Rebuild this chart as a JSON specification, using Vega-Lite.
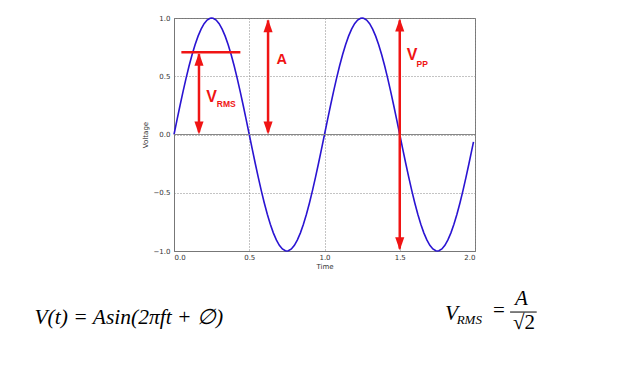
{
  "$schema": "https://vega.github.io/schema/vega-lite/v6.json",
  "autosize": "none",
  "width": 301,
  "height": 233,
  "padding": {"left": 174, "top": 18, "right": 155, "bottom": 125},
  "background": "white",
  "config": {
    "view": {"stroke": "#777", "strokeWidth": 1},
    "axis": {
      "labelFont": "DejaVu Sans", "labelFontSize": 7, "labelColor": "#333",
      "titleFont": "DejaVu Sans", "titleFontSize": 7, "titleFontWeight": "normal", "titleColor": "#333",
      "domainColor": "#777", "ticks": false,
      "grid": true, "gridColor": "#888", "gridDash": [1, 2], "gridOpacity": 1
    }
  },
  "datasets": {
    "wave": [
      {"x": 0, "y": 0}, {"x": 0.02, "y": 0.1253}, {"x": 0.04, "y": 0.2487}, {"x": 0.06, "y": 0.3681}, {"x": 0.08, "y": 0.4818},
      {"x": 0.1, "y": 0.5878}, {"x": 0.12, "y": 0.6845}, {"x": 0.14, "y": 0.7705}, {"x": 0.16, "y": 0.8443}, {"x": 0.18, "y": 0.9048},
      {"x": 0.2, "y": 0.9511}, {"x": 0.22, "y": 0.9823}, {"x": 0.24, "y": 0.998}, {"x": 0.25, "y": 1}, {"x": 0.26, "y": 0.998},
      {"x": 0.28, "y": 0.9823}, {"x": 0.3, "y": 0.9511}, {"x": 0.32, "y": 0.9048}, {"x": 0.34, "y": 0.8443}, {"x": 0.36, "y": 0.7705},
      {"x": 0.38, "y": 0.6845}, {"x": 0.4, "y": 0.5878}, {"x": 0.42, "y": 0.4818}, {"x": 0.44, "y": 0.3681}, {"x": 0.46, "y": 0.2487},
      {"x": 0.48, "y": 0.1253}, {"x": 0.5, "y": 0}, {"x": 0.52, "y": -0.1253}, {"x": 0.54, "y": -0.2487}, {"x": 0.56, "y": -0.3681},
      {"x": 0.58, "y": -0.4818}, {"x": 0.6, "y": -0.5878}, {"x": 0.62, "y": -0.6845}, {"x": 0.64, "y": -0.7705}, {"x": 0.66, "y": -0.8443},
      {"x": 0.68, "y": -0.9048}, {"x": 0.7, "y": -0.9511}, {"x": 0.72, "y": -0.9823}, {"x": 0.74, "y": -0.998}, {"x": 0.75, "y": -1},
      {"x": 0.76, "y": -0.998}, {"x": 0.78, "y": -0.9823}, {"x": 0.8, "y": -0.9511}, {"x": 0.82, "y": -0.9048}, {"x": 0.84, "y": -0.8443},
      {"x": 0.86, "y": -0.7705}, {"x": 0.88, "y": -0.6845}, {"x": 0.9, "y": -0.5878}, {"x": 0.92, "y": -0.4818}, {"x": 0.94, "y": -0.3681},
      {"x": 0.96, "y": -0.2487}, {"x": 0.98, "y": -0.1253}, {"x": 1, "y": 0}, {"x": 1.02, "y": 0.1253}, {"x": 1.04, "y": 0.2487},
      {"x": 1.06, "y": 0.3681}, {"x": 1.08, "y": 0.4818}, {"x": 1.1, "y": 0.5878}, {"x": 1.12, "y": 0.6845}, {"x": 1.14, "y": 0.7705},
      {"x": 1.16, "y": 0.8443}, {"x": 1.18, "y": 0.9048}, {"x": 1.2, "y": 0.9511}, {"x": 1.22, "y": 0.9823}, {"x": 1.24, "y": 0.998},
      {"x": 1.25, "y": 1}, {"x": 1.26, "y": 0.998}, {"x": 1.28, "y": 0.9823}, {"x": 1.3, "y": 0.9511}, {"x": 1.32, "y": 0.9048},
      {"x": 1.34, "y": 0.8443}, {"x": 1.36, "y": 0.7705}, {"x": 1.38, "y": 0.6845}, {"x": 1.4, "y": 0.5878}, {"x": 1.42, "y": 0.4818},
      {"x": 1.44, "y": 0.3681}, {"x": 1.46, "y": 0.2487}, {"x": 1.48, "y": 0.1253}, {"x": 1.5, "y": 0}, {"x": 1.52, "y": -0.1253},
      {"x": 1.54, "y": -0.2487}, {"x": 1.56, "y": -0.3681}, {"x": 1.58, "y": -0.4818}, {"x": 1.6, "y": -0.5878}, {"x": 1.62, "y": -0.6845},
      {"x": 1.64, "y": -0.7705}, {"x": 1.66, "y": -0.8443}, {"x": 1.68, "y": -0.9048}, {"x": 1.7, "y": -0.9511}, {"x": 1.72, "y": -0.9823},
      {"x": 1.74, "y": -0.998}, {"x": 1.75, "y": -1}, {"x": 1.76, "y": -0.998}, {"x": 1.78, "y": -0.9823}, {"x": 1.8, "y": -0.9511},
      {"x": 1.82, "y": -0.9048}, {"x": 1.84, "y": -0.8443}, {"x": 1.86, "y": -0.7705}, {"x": 1.88, "y": -0.6845}, {"x": 1.9, "y": -0.5878},
      {"x": 1.92, "y": -0.4818}, {"x": 1.94, "y": -0.3681}, {"x": 1.96, "y": -0.2487}, {"x": 1.98, "y": -0.1253}, {"x": 1.99, "y": -0.0628}
    ],
    "zeroline": [{"x": 0, "x2": 2, "y": 0}],
    "hlines": [{"x": 0.049, "x2": 0.441, "y": 0.707}],
    "vlines": [
      {"x": 0.166, "y": 0.02, "y2": 0.69},
      {"x": 0.625, "y": 0.02, "y2": 0.98},
      {"x": 1.5, "y": -0.98, "y2": 0.98}
    ],
    "headsUp": [
      {"x": 0.166, "y": 0.702},
      {"x": 0.625, "y": 0.99},
      {"x": 1.5, "y": 0.995}
    ],
    "headsDown": [
      {"x": 0.166, "y": 0.0},
      {"x": 0.625, "y": 0.0},
      {"x": 1.5, "y": -0.993}
    ],
    "bigV": [
      {"x": 0.215, "y": 0.282, "text": "V"},
      {"x": 1.546, "y": 0.641, "text": "V"}
    ],
    "bigA": [{"x": 0.681, "y": 0.604, "text": "A"}],
    "subs": [
      {"x": 0.284, "y": 0.239, "text": "RMS"},
      {"x": 1.612, "y": 0.583, "text": "PP"}
    ],
    "eqItalic": [
      {"x": -0.927, "y": -1.623, "text": "V(t) = Asin(2πft + ∅)"},
      {"x": 1.8, "y": -1.595, "text": "V"}
    ],
    "eqSub": [{"x": 1.878, "y": -1.623, "text": "RMS"}],
    "eqEq": [{"x": 2.12, "y": -1.57, "text": "="}],
    "eqNum": [{"x": 2.309, "y": -1.466, "text": "A"}],
    "eqDen": [{"x": 2.326, "y": -1.672, "text": "√2"}],
    "eqBar": [{"x": 2.233, "x2": 2.41, "y": -1.524}]
  },
  "encoding": {
    "x": {
      "field": "x", "type": "quantitative",
      "scale": {"domain": [0, 2], "nice": false, "zero": false},
      "axis": {"values": [0, 0.5, 1, 1.5, 2], "format": ".1f", "title": "Time", "labelPadding": 2, "titlePadding": 2}
    },
    "y": {
      "field": "y", "type": "quantitative",
      "scale": {"domain": [-1, 1], "nice": false, "zero": false},
      "axis": {"values": [-1, -0.5, 0, 0.5, 1], "format": ".1f", "title": "Voltage", "labelPadding": 4, "titlePadding": 5}
    }
  },
  "layer": [
    {
      "data": {"name": "wave"},
      "mark": {"type": "line", "color": "#2a14d2", "strokeWidth": 1.6}
    },
    {
      "data": {"name": "zeroline"},
      "mark": {"type": "rule", "color": "#888", "strokeWidth": 1},
      "encoding": {"x2": {"field": "x2"}}
    },
    {
      "data": {"name": "hlines"},
      "mark": {"type": "rule", "color": "#f01414", "strokeWidth": 2.5},
      "encoding": {"x2": {"field": "x2"}}
    },
    {
      "data": {"name": "vlines"},
      "mark": {"type": "rule", "color": "#f01414", "strokeWidth": 2.5},
      "encoding": {"y2": {"field": "y2"}}
    },
    {
      "data": {"name": "headsUp"},
      "mark": {"type": "point", "shape": "M0,0L0.7,2L-0.7,2Z", "filled": true, "color": "#f01414", "opacity": 1, "size": 169}
    },
    {
      "data": {"name": "headsDown"},
      "mark": {"type": "point", "shape": "M0,0L0.7,-2L-0.7,-2Z", "filled": true, "color": "#f01414", "opacity": 1, "size": 169}
    },
    {
      "data": {"name": "bigV"},
      "mark": {"type": "text", "font": "Liberation Sans", "fontWeight": "bold", "fontSize": 16, "color": "#f01414", "align": "left", "baseline": "alphabetic"},
      "encoding": {"text": {"field": "text"}}
    },
    {
      "data": {"name": "bigA"},
      "mark": {"type": "text", "font": "Liberation Sans", "fontWeight": "bold", "fontSize": 14.5, "color": "#f01414", "align": "left", "baseline": "alphabetic"},
      "encoding": {"text": {"field": "text"}}
    },
    {
      "data": {"name": "subs"},
      "mark": {"type": "text", "font": "Liberation Sans", "fontWeight": "bold", "fontSize": 8.5, "color": "#f01414", "align": "left", "baseline": "alphabetic"},
      "encoding": {"text": {"field": "text"}}
    },
    {
      "data": {"name": "eqItalic"},
      "mark": {"type": "text", "font": "Liberation Serif", "fontStyle": "italic", "fontSize": 21.5, "color": "#000", "align": "left", "baseline": "alphabetic"},
      "encoding": {"text": {"field": "text"}}
    },
    {
      "data": {"name": "eqSub"},
      "mark": {"type": "text", "font": "Liberation Serif", "fontStyle": "italic", "fontSize": 13, "color": "#000", "align": "left", "baseline": "alphabetic"},
      "encoding": {"text": {"field": "text"}}
    },
    {
      "data": {"name": "eqEq"},
      "mark": {"type": "text", "font": "Liberation Serif", "fontSize": 21, "color": "#000", "align": "left", "baseline": "alphabetic"},
      "encoding": {"text": {"field": "text"}}
    },
    {
      "data": {"name": "eqNum"},
      "mark": {"type": "text", "font": "Liberation Serif", "fontStyle": "italic", "fontSize": 21, "color": "#000", "align": "center", "baseline": "alphabetic"},
      "encoding": {"text": {"field": "text"}}
    },
    {
      "data": {"name": "eqDen"},
      "mark": {"type": "text", "font": "Liberation Serif", "fontSize": 21, "color": "#000", "align": "center", "baseline": "alphabetic"},
      "encoding": {"text": {"field": "text"}}
    },
    {
      "data": {"name": "eqBar"},
      "mark": {"type": "rule", "color": "#000", "strokeWidth": 1},
      "encoding": {"x2": {"field": "x2"}}
    }
  ]
}
